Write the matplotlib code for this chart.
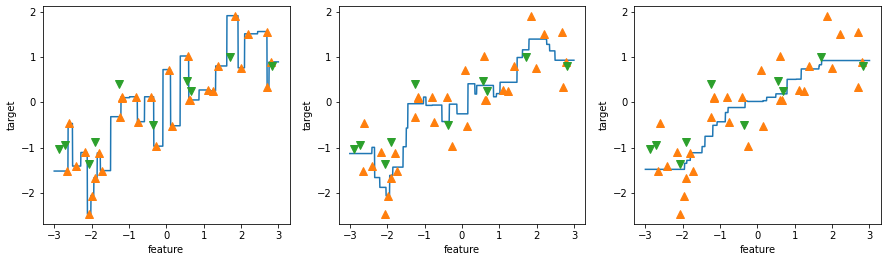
import numpy as np
import matplotlib
matplotlib.use("Agg")
import matplotlib.pyplot as plt

# training points (orange, '^')
x_train = [-2.6515, -2.6097, -2.4140, -2.1630, -2.0639, -1.9769, -1.8996, -1.8020,
           -1.7260, -1.2471, -1.1745, -1.1723, -0.8018, -0.7527, -0.4083, -0.2636,
           0.0854, 0.1485, 0.5920, 0.6067, 0.6453, 1.1054, 1.2484, 1.3920,
           1.8504, 1.9947, 2.1971, 2.6933, 2.7043, 2.7938]
y_train = [-1.52, -0.47, -1.41, -1.11, -2.47, -2.06, -1.67, -1.12,
           -1.51, -0.32, 0.12, 0.10, 0.12, -0.43, 0.12, -0.97,
           0.72, -0.52, 1.02, 0.04, 0.05, 0.27, 0.25, 0.80,
           1.91, 0.76, 1.51, 1.56, 0.33, 0.89]

# test points (green, 'v')
x_test = [-2.8765, -2.7213, -2.0640, -1.9091, -1.2526, -0.3591, 0.5545, 0.6711, 1.7111, 2.8195]
y_test = [-1.03, -0.94, -1.36, -0.88, 0.41, -0.50, 0.47, 0.25, 1.00, 0.81]

neighbors = [1, 3, 9]


def knn_predict(xq, xs, ys, k):
    xs = np.asarray(xs)
    ys = np.asarray(ys)
    d = np.abs(xq[:, None] - xs[None, :])
    idx = np.argsort(d, axis=1, kind="stable")[:, :k]
    return ys[idx].mean(axis=1)


line = np.linspace(-3, 3, 1000)

fig, axes = plt.subplots(1, 3, figsize=(887 / 72, 262 / 72), dpi=72)
fig.subplots_adjust(left=0.0485, right=0.9929, bottom=0.145, top=0.978, wspace=0.199)

for k, ax in zip(neighbors, axes):
    ax.plot(line, knn_predict(line, x_train, y_train, k))
    ax.plot(x_train, y_train, '^', c='C1', markersize=8)
    ax.plot(x_test, y_test, 'v', c='C2', markersize=8)
    ax.set_xlabel("feature")
    ax.set_ylabel("target")
    ax.set_xticks(np.arange(-3, 4))
    ax.set_yticks(np.arange(-2, 3))

fig.savefig("out.png", dpi=72)
